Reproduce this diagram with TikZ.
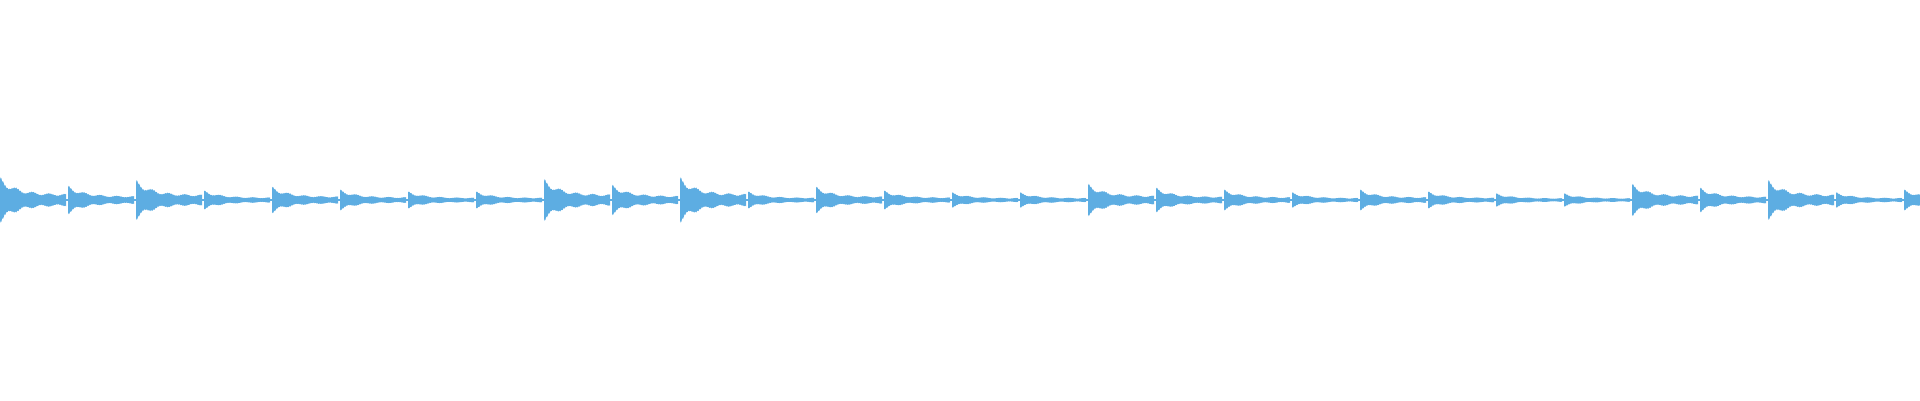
\documentclass[tikz,border=0pt]{standalone}
\begin{document}
\begin{tikzpicture}[x=1pt,y=1pt]
\definecolor{wavec}{HTML}{5DADE2}
\tikzset{wave/.style={fill=wavec}}
\useasboundingbox (0,0) rectangle (1920,400);
\fill[wave] (0,199.4) rectangle (1920,200.6);
\foreach \A [count=\i from 0] in {24,15,21,10,14,11,9,9,22,16,24,9,14,10,8,8,17,13,11,8,11,9,7,7,17,13,21,8,11}{
  \pgfmathsetmacro{\xo}{\i*68}
  \fill[wave] plot[domain=0:66,samples=89] ({\xo+\x},{200+\A*(0.25+0.75*exp(-\x/16))*(0.85+0.15*cos(\x*22))*(0.85+0.15*abs(sin(\x*157)))})
   -- plot[domain=66:0,samples=89] ({\xo+\x},{200-\A*(0.25+0.75*exp(-\x/16))*(0.85+0.15*cos(\x*22))*(0.85+0.15*abs(sin(\x*157)))}) -- cycle;
}
\end{tikzpicture}
\end{document}
